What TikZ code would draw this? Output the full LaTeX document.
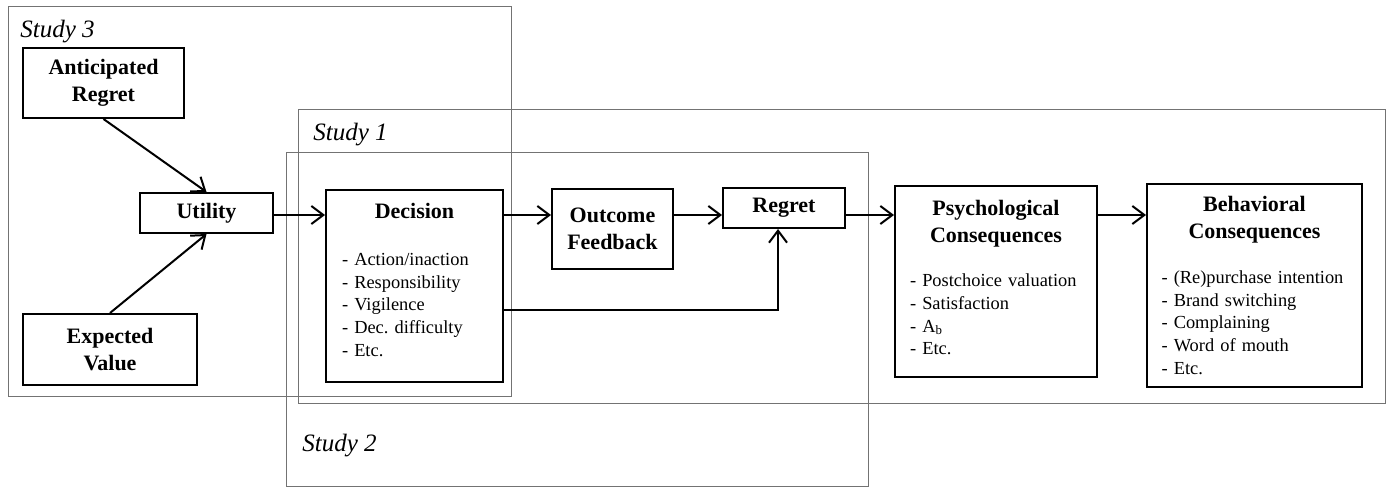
\documentclass[tikz,border=0pt]{standalone}
\usepackage{fontspec}
\setmainfont{Liberation Serif}
\usetikzlibrary{arrows.meta}
\frenchspacing

\newcommand{\headfont}{\fontsize{11}{13.5}\selectfont\bfseries}
\newcommand{\listfont}{\fontsize{9.2}{11.35}\selectfont}
\newcommand{\liftby}[1]{\par\vspace{#1}\hrule height 0pt}

\begin{document}
\begin{tikzpicture}[x=0.5pt, y=-0.5pt,
    block/.style={draw, line width=1pt, fill=white, inner sep=0pt, align=center, font=\headfont},
    listblock/.style={block, align=left, font=\listfont},
    study/.style={draw=black!55, line width=0.5pt},
    studylabel/.style={anchor=west, inner sep=0pt, font=\fontsize{12.5}{14}\selectfont\itshape},
    flow/.style={-{Straight Barb[length=6pt,width=9pt]}, line width=1pt}]
  \useasboundingbox (0,0) rectangle (1389,487);

  % study frames
  \draw[study] (8,6) rectangle (511,396);
  \draw[study] (298,109) rectangle (1385,403);
  \draw[study] (286,152) rectangle (868,486);
  \node[studylabel] (s3) at (20,32) {Study 3};
  \node[studylabel] (s1) at (313,135) {Study 1};
  \node[studylabel] (s2) at (302,446) {Study 2};

  % antecedents
  \node[block, minimum width=80.5pt, minimum height=35pt] (antreg) at (103.5,83) {Anticipated\\Regret};
  \node[block, minimum width=87pt, minimum height=35.5pt] (expval) at (110,349.5) {Expected\\Value};
  \node[block, minimum width=66.5pt, minimum height=20pt] (utility) at (206.5,213) {Utility};

  % decision and outcome
  \node[listblock, minimum width=88.5pt, minimum height=96pt, text width=72.5pt] (decision) at (414.5,286)
    {{\centering\headfont Decision\par}\vspace{12pt}
     - Action/inaction\\- Responsibility\\- Vigilence\\- Dec. difficulty\\- Etc.\liftby{6pt}};
  \node[block, minimum width=60.5pt, minimum height=40pt] (outcome) at (612.5,229) {Outcome\\Feedback};
  \node[block, minimum width=61pt, minimum height=20pt] (regret) at (784,208) {Regret};

  % consequences
  \node[listblock, minimum width=101pt, minimum height=95.5pt, text width=86pt] (psych) at (996,281.5)
    {{\centering\headfont Psychological\\Consequences\par}\vspace{11pt}
     - Postchoice valuation\\- Satisfaction\\- A\textsubscript{b}\\- Etc.\liftby{4pt}};
  \node[listblock, minimum width=107.5pt, minimum height=101.5pt, text width=93pt] (behav) at (1254.5,285.5)
    {{\centering\headfont Behavioral\\Consequences\par}\vspace{11pt}
     - (Re)purchase intention\\- Brand switching\\- Complaining\\- Word of mouth\\- Etc.};

  % connectors
  \coordinate (flow) at (0,215);
  \coordinate (low) at (0,310);
  \draw[flow] (antreg.south) -- (utility.north);
  \draw[flow] (expval.north) -- (utility.south);
  \draw[flow] (utility.east |- flow) -- (decision.west |- flow);
  \draw[flow] (decision.east |- flow) -- (outcome.west |- flow);
  \draw[flow] (outcome.east |- flow) -- (regret.west |- flow);
  \draw[flow] (regret.east |- flow) -- (psych.west |- flow);
  \draw[flow] (psych.east |- flow) -- (behav.west |- flow);
  \draw[flow] (decision.east |- low) -| ([xshift=-3pt]regret.south);
\end{tikzpicture}
\end{document}
